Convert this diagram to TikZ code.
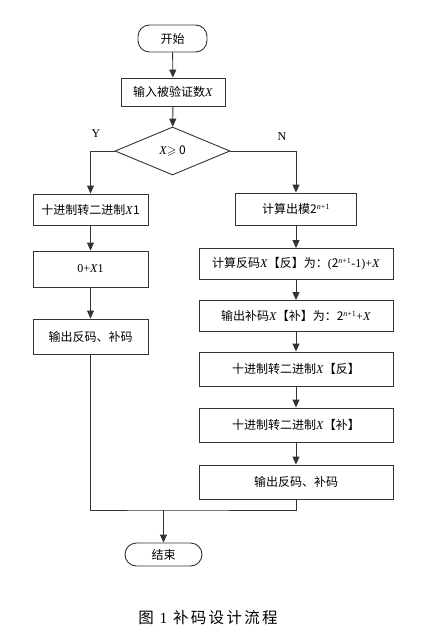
\documentclass[tikz,border=0pt]{standalone}
\usepackage{amsmath,amssymb}
\usepackage{fontspec}
\setmainfont{Liberation Serif}
\newfontfamily\cjk{Noto Sans CJK SC}
\newfontfamily\capfont[LetterSpace=15]{Noto Sans CJK SC}
\usetikzlibrary{arrows.meta}
\usetikzlibrary{shapes.geometric}
\newcommand{\vX}{\textit{\rmfamily X}}
\newcommand{\pwr}{2\textsuperscript{\rmfamily\itshape n\upshape+1}}

\begin{document}
\begin{tikzpicture}[x=1pt,y=-1pt,
  every node/.style={font=\cjk\fontsize{12}{14}\selectfont,text=black},
  line/.style={draw=black!80,line width=0.9pt},
  arr/.style={line,-{Triangle[length=8pt,width=7pt]}},
  box/.style={line,rectangle,inner sep=0pt},
  term/.style={line,rectangle,rounded corners=11.5pt,inner sep=0pt},
  dec/.style={line,diamond,aspect=2.4,inner sep=0pt,minimum width=115pt,minimum height=48pt}]
  \useasboundingbox (0,0) rectangle (420,639);

  \node[term,minimum width=69pt,minimum height=27pt] (start) at (172.5,38.5) {开始};
  \node[box,minimum width=104pt,minimum height=28pt] (input) at (173,92) {输入被验证数\vX};
  \node[dec] (cmp) at (172.5,151) {\vX$\geqslant$ 0};
  \node[font=\rmfamily\fontsize{12}{14}\selectfont] (yes) at (96,134) {Y};
  \node[font=\rmfamily\fontsize{12}{14}\selectfont] (no) at (282,137) {N};

  %left
  \node[box,minimum width=115pt,minimum height=31pt] (conv) at (90.5,209.5) {十进制转二进制\vX1};
  \node[box,minimum width=115pt,minimum height=36pt] (add) at (90.5,269) {\rmfamily 0+\textit{X}1};
  \node[box,minimum width=115pt,minimum height=35pt] (outl) at (90.5,336.5) {输出反码、补码};

  %right
  \node[box,minimum width=121pt,minimum height=32pt] (mod) at (296,209) {计算出模\pwr};
  \node[box,minimum width=194pt,minimum height=31pt] (inv) at (296,264) {计算反码\vX【反】为：{\rmfamily(}\pwr{\rmfamily -1)+}\vX};
  \node[box,minimum width=194pt,minimum height=31pt] (cpl) at (296,316) {输出补码\vX【补】为：\pwr{\rmfamily +}\vX};
  \node[box,minimum width=194pt,minimum height=34pt] (binv) at (296,369) {十进制转二进制\vX【反】};
  \node[box,minimum width=194pt,minimum height=34pt] (bcpl) at (296,425) {十进制转二进制\vX【补】};
  \node[box,minimum width=194pt,minimum height=34pt] (outr) at (296,482) {输出反码、补码};

  \node[term,minimum width=77pt,minimum height=23pt] (stop) at (163.5,554.5) {结束};
  \coordinate (join) at (163.5,510);

  \draw[arr] (start) -- (input);
  \draw[arr] (input) -- (cmp);
  \draw[arr] (cmp.west) -| (conv);
  \draw[arr] (conv) -- (add);
  \draw[arr] (add) -- (outl);
  \draw[arr] (cmp.east) -| (mod);
  \draw[arr] (mod) -- (inv);
  \draw[arr] (inv) -- (cpl);
  \draw[arr] (cpl) -- (binv);
  \draw[arr] (binv) -- (bcpl);
  \draw[arr] (bcpl) -- (outr);
  \draw[line] (outl) |- (join) -| (outr);
  \draw[arr] (join) -- (stop);

  \node[font=\capfont\fontsize{15.5}{17}\selectfont] (cap) at (208,618) {图 {\rmfamily 1} 补码设计流程};
\end{tikzpicture}
\end{document}
